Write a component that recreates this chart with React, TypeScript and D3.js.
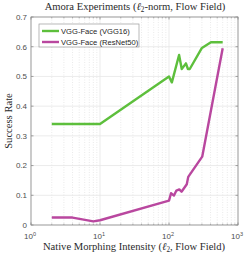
import React from 'react';
import * as d3 from 'd3';

const vggX = [2, 10, 100, 110, 140, 153, 176, 188, 200, 300, 405, 600];
const vggY = [0.34, 0.34, 0.5, 0.48, 0.572, 0.525, 0.544, 0.525, 0.525, 0.596, 0.615, 0.615];
const resX = [2, 4, 8, 10, 100, 107, 118, 128, 141, 152, 181, 190, 303, 600];
const resY = [0.025, 0.025, 0.012, 0.016, 0.082, 0.107, 0.099, 0.116, 0.12, 0.112, 0.137, 0.162, 0.23, 0.595];
const yTicks = [0, 0.1, 0.2, 0.3, 0.4, 0.5, 0.6, 0.7];
const xTicks = [1, 10, 100, 1000];
const seriesNames = ['VGG-Face (VGG16)', 'VGG-Face (ResNet50)'];
const colors = ['#5dbf3c', '#b9479f'];

const W = 249;
const H = 257;
const m = { left: 31, right: 11, top: 17, bottom: 32 };

export default function App() {
  const x = d3.scaleLog().domain([1, 1000]).range([m.left, W - m.right]);
  const y = d3.scaleLinear().domain([0, 0.7]).range([H - m.bottom, m.top]);

  const line = d3.line<[number, number]>()
    .x(d => x(d[0]))
    .y(d => y(d[1]));

  const series = [
    vggX.map((v, i) => [v, vggY[i]] as [number, number]),
    resX.map((v, i) => [v, resY[i]] as [number, number]),
  ];

  // minor log ticks 2..9 in each decade
  const minor: number[] = [];
  [1, 10, 100].forEach(d => {
    for (let k = 2; k < 10; k++) minor.push(d * k);
  });

  const x0 = m.left, x1 = W - m.right, y0 = H - m.bottom, y1 = m.top;
  const axisCol = '#8c8c8c';
  const tickCol = '#4d4d4d';
  const serif = "'Liberation Serif', serif";

  return (
    <svg width={W} height={H} style={{ position: 'absolute', left: 0, top: 0, background: '#fff' }}
      fontFamily="'Liberation Sans', Arial, sans-serif">
      {/* minor grid */}
      {minor.map(v => (
        <line key={'mg' + v} x1={x(v)} x2={x(v)} y1={y1} y2={y0}
          stroke="#dcdcdc" strokeWidth={0.6} strokeDasharray="1,1.5" />
      ))}
      {/* major grid */}
      {xTicks.map(v => (
        <line key={'gx' + v} x1={x(v)} x2={x(v)} y1={y1} y2={y0} stroke="#e6e6e6" strokeWidth={0.8} />
      ))}
      {yTicks.map(v => (
        <line key={'gy' + v} x1={x0} x2={x1} y1={y(v)} y2={y(v)} stroke="#e6e6e6" strokeWidth={0.8} />
      ))}

      {/* lines */}
      {series.map((s, i) => (
        <path key={'s' + i} d={line(s) || ''} fill="none" stroke={colors[i]}
          strokeWidth={2.4} strokeLinejoin="round" />
      ))}

      {/* box */}
      <rect x={x0} y={y1} width={x1 - x0} height={y0 - y1} fill="none" stroke={axisCol} strokeWidth={0.8} />
      {/* ticks */}
      {yTicks.map(v => (
        <g key={'ty' + v}>
          <line x1={x0} x2={x0 + 2.5} y1={y(v)} y2={y(v)} stroke={axisCol} strokeWidth={0.8} />
          <line x1={x1} x2={x1 - 2.5} y1={y(v)} y2={y(v)} stroke={axisCol} strokeWidth={0.8} />
          <text x={x0 - 4} y={y(v) + 2.8} textAnchor="end" fontSize={8} fill={tickCol}>{v === 0 ? '0' : d3.format('.1f')(v)}</text>
        </g>
      ))}
      {xTicks.map(v => (
        <g key={'tx' + v}>
          <line x1={x(v)} x2={x(v)} y1={y0} y2={y0 - 2.5} stroke={axisCol} strokeWidth={0.8} />
          <line x1={x(v)} x2={x(v)} y1={y1} y2={y1 + 2.5} stroke={axisCol} strokeWidth={0.8} />
          <text x={x(v) - 1} y={y0 + 14} textAnchor="middle" fontSize={8} fill={tickCol}>
            10<tspan dy={-3.5} fontSize={5.5}>{Math.round(Math.log10(v))}</tspan>
          </text>
        </g>
      ))}
      {minor.map(v => (
        <g key={'mt' + v}>
          <line x1={x(v)} x2={x(v)} y1={y0} y2={y0 - 1.5} stroke={axisCol} strokeWidth={0.6} />
          <line x1={x(v)} x2={x(v)} y1={y1} y2={y1 + 1.5} stroke={axisCol} strokeWidth={0.6} />
        </g>
      ))}

      {/* legend */}
      <rect x={39} y={24} width={100} height={23} fill="#fff" stroke="#9a9a9a" strokeWidth={0.7} />
      {seriesNames.map((n, i) => (
        <g key={'lg' + i}>
          <line x1={42} x2={59} y1={31 + i * 11} y2={31 + i * 11} stroke={colors[i]} strokeWidth={2.4} />
          <text x={61} y={34 + i * 11} fontSize={7.6} fill="#262626">{n}</text>
        </g>
      ))}

      {/* titles */}
      <text x={135} y={10} textAnchor="middle" fontSize={10.6} fontFamily={serif} fill="#2a2a2a">
        Amora Experiments (<tspan fontStyle="italic">ℓ</tspan><tspan dy={2} fontSize={7.2}>2</tspan><tspan dy={-2}>-norm, Flow Field)</tspan>
      </text>
      <text x={134} y={250} textAnchor="middle" fontSize={10.6} fontFamily={serif} fill="#2a2a2a">
        Native Morphing Intensity (<tspan fontStyle="italic">ℓ</tspan><tspan dy={2} fontSize={7.2}>2</tspan><tspan dy={-2}>, Flow Field)</tspan>
      </text>
      <text transform={`translate(12,${(y0 + y1) / 2}) rotate(-90)`} textAnchor="middle" fontSize={10.6}
        fontFamily={serif} fill="#2a2a2a">Success Rate</text>
    </svg>
  );
}
